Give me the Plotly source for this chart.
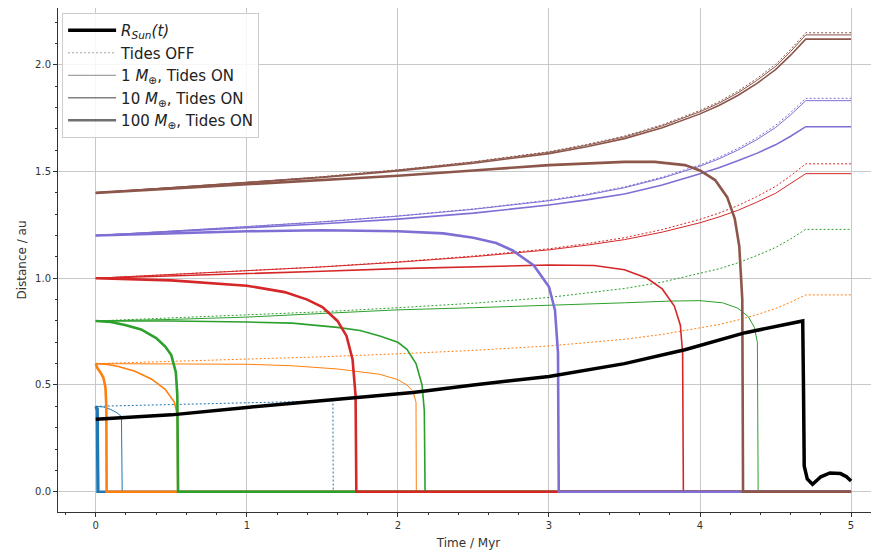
import plotly.graph_objects as go

# ---------------- data ----------------
# Solar radius
t_sun = [0, 0.5, 1.0, 1.5, 1.9, 2.1, 2.5, 3.0, 3.5, 3.9, 4.3, 4.6, 4.68,
         4.685, 4.69, 4.71, 4.745, 4.8, 4.86, 4.93, 4.97, 5.0]
r_sun = [0.34, 0.36, 0.395, 0.425, 0.45, 0.465, 0.50, 0.54, 0.60, 0.665, 0.745, 0.79, 0.80,
         0.50, 0.12, 0.06, 0.035, 0.07, 0.088, 0.085, 0.07, 0.05]

# common time grid for surviving orbits
t_grow = [0, 0.5, 1.0, 1.5, 2.0, 2.5, 3.0, 3.25, 3.5, 3.75, 4.0, 4.125, 4.25, 4.375, 4.5, 4.6, 4.7, 5.0]

# a0 = 0.4 au (blue)
t04_off = [0, 0.5, 1.0, 1.5, 1.57, 1.572, 5.0]
a04_off = [0.40, 0.408, 0.417, 0.424, 0.426, 0.0, 0.0]
t04_1 = [0, 0.05, 0.1, 0.14, 0.17, 0.175, 5.0]
a04_1 = [0.40, 0.397, 0.385, 0.37, 0.352, 0.0, 0.0]
t04_10 = [0, 0.015, 0.02, 5.0]
a04_10 = [0.40, 0.39, 0.0, 0.0]
t04_100 = [0, 0.008, 0.012, 5.0]
a04_100 = [0.40, 0.38, 0.0, 0.0]

# a0 = 0.6 au (orange)
a06_off = [0.600, 0.610, 0.621, 0.632, 0.646, 0.662, 0.683, 0.697, 0.714, 0.737, 0.766, 0.783, 0.804, 0.829, 0.858, 0.888, 0.922, 0.922]
t06_1 = [0, 0.5, 1.0, 1.3, 1.6, 1.88, 2.0, 2.06, 2.1, 2.12, 2.122, 5.0]
a06_1 = [0.60, 0.60, 0.597, 0.59, 0.575, 0.55, 0.525, 0.50, 0.47, 0.42, 0.0, 0.0]
t06_10 = [0, 0.08, 0.15, 0.26, 0.37, 0.46, 0.52, 0.54, 0.542, 5.0]
a06_10 = [0.60, 0.596, 0.587, 0.564, 0.527, 0.48, 0.42, 0.36, 0.0, 0.0]
t06_100 = [0, 0.01, 0.03, 0.05, 0.064, 0.07, 0.072, 5.0]
a06_100 = [0.60, 0.58, 0.56, 0.535, 0.49, 0.40, 0.0, 0.0]

# a0 = 0.8 au (green)
a08_off = [0.800, 0.814, 0.828, 0.843, 0.862, 0.883, 0.910, 0.930, 0.952, 0.982, 1.021, 1.044, 1.072, 1.106, 1.144, 1.184, 1.229, 1.229]
t08_1 = [0, 0.5, 1.0, 1.5, 2.0, 2.5, 3.0, 3.5, 3.8, 4.0, 4.15, 4.25, 4.32, 4.36, 4.38, 4.385, 5.0]
a08_1 = [0.80, 0.807, 0.818, 0.835, 0.852, 0.862, 0.872, 0.885, 0.893, 0.895, 0.885, 0.86, 0.82, 0.77, 0.70, 0.0, 0.0]
t08_10 = [0, 0.5, 1.0, 1.3, 1.6, 1.75, 1.88, 2.0, 2.06, 2.12, 2.16, 2.175, 2.18, 5.0]
a08_10 = [0.80, 0.80, 0.795, 0.79, 0.77, 0.755, 0.73, 0.70, 0.667, 0.60, 0.50, 0.38, 0.0, 0.0]
t08_100 = [0, 0.1, 0.2, 0.3, 0.4, 0.46, 0.5, 0.53, 0.54, 0.545, 5.0]
a08_100 = [0.80, 0.795, 0.78, 0.76, 0.72, 0.68, 0.64, 0.56, 0.45, 0.0, 0.0]

# a0 = 1.0 au (red)
a10_off = [1.000, 1.017, 1.035, 1.054, 1.077, 1.104, 1.138, 1.162, 1.190, 1.228, 1.276, 1.305, 1.340, 1.382, 1.430, 1.480, 1.536, 1.536]
a10_1 = [1.000, 1.017, 1.034, 1.053, 1.075, 1.101, 1.133, 1.155, 1.181, 1.216, 1.260, 1.287, 1.318, 1.356, 1.398, 1.443, 1.490, 1.490]
t10_10 = [0, 0.5, 1.0, 1.5, 2.0, 2.5, 3.0, 3.3, 3.5, 3.65, 3.75, 3.83, 3.87, 3.885, 3.89, 5.0]
a10_10 = [1.00, 1.01, 1.02, 1.033, 1.045, 1.055, 1.062, 1.06, 1.04, 1.00, 0.95, 0.87, 0.78, 0.65, 0.0, 0.0]
t10_100 = [0, 0.5, 1.0, 1.25, 1.4, 1.5, 1.6, 1.66, 1.7, 1.72, 1.725, 5.0]
a10_100 = [1.00, 0.99, 0.965, 0.935, 0.90, 0.865, 0.80, 0.73, 0.62, 0.45, 0.0, 0.0]

# a0 = 1.2 au (purple)
a12_off = [1.200, 1.220, 1.242, 1.265, 1.292, 1.325, 1.366, 1.394, 1.428, 1.474, 1.531, 1.566, 1.608, 1.658, 1.716, 1.776, 1.843, 1.843]
a12_1 = [1.200, 1.220, 1.242, 1.264, 1.291, 1.323, 1.363, 1.390, 1.424, 1.469, 1.525, 1.559, 1.600, 1.649, 1.706, 1.765, 1.832, 1.832]
a12_10 = [1.200, 1.218, 1.236, 1.255, 1.277, 1.305, 1.343, 1.367, 1.395, 1.437, 1.490, 1.518, 1.550, 1.585, 1.625, 1.665, 1.710, 1.710]
t12_100 = [0, 0.5, 1.0, 1.5, 2.0, 2.3, 2.5, 2.65, 2.76, 2.9, 3.0, 3.04, 3.06, 3.065, 5.0]
a12_100 = [1.20, 1.21, 1.22, 1.225, 1.22, 1.21, 1.19, 1.165, 1.13, 1.06, 0.96, 0.85, 0.65, 0.0, 0.0]

# a0 = 1.4 au (brown)
a14_off = [1.400, 1.424, 1.449, 1.476, 1.508, 1.546, 1.593, 1.627, 1.666, 1.719, 1.786, 1.827, 1.876, 1.935, 2.002, 2.072, 2.150, 2.150]
a14_1 = [1.400, 1.424, 1.449, 1.475, 1.507, 1.544, 1.590, 1.623, 1.662, 1.714, 1.780, 1.820, 1.868, 1.926, 1.992, 2.062, 2.140, 2.140]
a14_10 = [1.400, 1.423, 1.447, 1.472, 1.503, 1.539, 1.584, 1.616, 1.654, 1.705, 1.770, 1.809, 1.856, 1.912, 1.977, 2.045, 2.120, 2.120]
t14_100 = [0, 0.5, 1.0, 1.5, 2.0, 2.5, 3.0, 3.5, 3.7, 3.9, 4.0, 4.1, 4.18, 4.23, 4.26, 4.28, 4.285, 5.0]
a14_100 = [1.40, 1.42, 1.44, 1.46, 1.48, 1.505, 1.53, 1.545, 1.545, 1.53, 1.505, 1.46, 1.38, 1.28, 1.15, 0.90, 0.0, 0.0]

x_ticks = [0, 1, 2, 3, 4, 5]
x_tick_labels = ["0", "1", "2", "3", "4", "5"]
y_ticks = [0.0, 0.5, 1.0, 1.5, 2.0]
y_tick_labels = ["0.0", "0.5", "1.0", "1.5", "2.0"]

legend_names = ["<i>R</i><sub><i>Sun</i></sub><i>(t)</i>", "Tides OFF",
                "1 <i>M</i><sub>⊕</sub>, Tides ON",
                "10 <i>M</i><sub>⊕</sub>, Tides ON",
                "100 <i>M</i><sub>⊕</sub>, Tides ON"]

# ---------------- styles ----------------
C_BLUE, C_ORANGE, C_GREEN = "#1f77b4", "#ff7f0e", "#2ca02c"
C_RED, C_PURPLE, C_BROWN = "#d62728", "#7d6fd4", "#8c564b"
W_OFF, W_1, W_10, W_100 = 1.0, 1.0, 1.6, 2.6
DOT = "2px,2px"

fig = go.Figure()

# legend-only entries (grey samples as in the reference)
leg_styles = [dict(color="black", width=3.5),
              dict(color="#a0a0a0", width=1, dash=DOT),
              dict(color="#8a8a8a", width=1),
              dict(color="#808080", width=1.6),
              dict(color="#707070", width=2.6)]
for name, st in zip(legend_names, leg_styles):
    fig.add_trace(go.Scatter(x=[None], y=[None], mode="lines", name=name,
                             line=st, showlegend=True))


def add(x, y, color, width, dash="solid"):
    fig.add_trace(go.Scatter(x=x, y=y, mode="lines", showlegend=False,
                             line=dict(color=color, width=width, dash=dash),
                             hoverinfo="skip"))


# blue
add(t04_off, a04_off, C_BLUE, W_OFF, DOT)
add(t04_1, a04_1, C_BLUE, W_1)
add(t04_10, a04_10, C_BLUE, W_10)
add(t04_100, a04_100, C_BLUE, W_100)
# orange
add(t_grow, a06_off, C_ORANGE, W_OFF, DOT)
add(t06_1, a06_1, C_ORANGE, W_1)
add(t06_10, a06_10, C_ORANGE, W_10)
add(t06_100, a06_100, C_ORANGE, W_100)
# green
add(t_grow, a08_off, C_GREEN, W_OFF, DOT)
add(t08_1, a08_1, C_GREEN, W_1)
add(t08_10, a08_10, C_GREEN, W_10)
add(t08_100, a08_100, C_GREEN, W_100)
# red
add(t_grow, a10_off, C_RED, W_OFF, DOT)
add(t_grow, a10_1, C_RED, W_1)
add(t10_10, a10_10, C_RED, W_10)
add(t10_100, a10_100, C_RED, W_100)
# purple
add(t_grow, a12_off, C_PURPLE, W_OFF, DOT)
add(t_grow, a12_1, C_PURPLE, W_1)
add(t_grow, a12_10, C_PURPLE, W_10)
add(t12_100, a12_100, C_PURPLE, W_100)
# brown
add(t_grow, a14_off, C_BROWN, W_OFF, DOT)
add(t_grow, a14_1, C_BROWN, W_1)
add(t_grow, a14_10, C_BROWN, W_10)
add(t14_100, a14_100, C_BROWN, W_100)

# solar radius on top
add(t_sun, r_sun, "black", 3.5)

axis_common = dict(showgrid=True, gridcolor="#c8c8c8", gridwidth=1, zeroline=False,
                   showline=True, linecolor="#333333", linewidth=1,
                   ticks="outside", ticklen=4, tickcolor="#333333", automargin=False,
                   tickfont=dict(family="DejaVu Sans", size=10, color="#333333"))

# the page body adds an 8 px offset, so the figure is 8 px smaller than the window
fig.update_layout(
    width=871, height=545,
    margin=dict(l=50, r=0, t=0, b=41),
    paper_bgcolor="white", plot_bgcolor="white",
    font=dict(family="DejaVu Sans", color="#333333"),
    xaxis=dict(range=[-0.25, 5.185], tickvals=x_ticks, ticktext=x_tick_labels,
               mirror=True,
               minor=dict(ticks="outside", ticklen=2, dtick=0.2, tick0=0,
                          tickcolor="#333333", showgrid=False),
               title=dict(text="Time / Myr", font=dict(size=12), standoff=8),
               **axis_common),
    yaxis=dict(range=[-0.095, 2.266], tickvals=y_ticks, ticktext=y_tick_labels,
               minor=dict(ticks="outside", ticklen=2, dtick=0.1, tick0=0,
                          tickcolor="#333333", showgrid=False),
               title=dict(text="Distance / au", font=dict(size=12), standoff=5),
               **axis_common),
    legend=dict(x=0.005, y=0.99, xanchor="left", yanchor="top",
                bgcolor="rgba(255,255,255,0.85)", bordercolor="#cccccc", borderwidth=1,
                font=dict(family="DejaVu Sans", size=15, color="#222222"),
                tracegroupgap=0, itemwidth=48),
    showlegend=True,
)

fig.write_html("out.html")
